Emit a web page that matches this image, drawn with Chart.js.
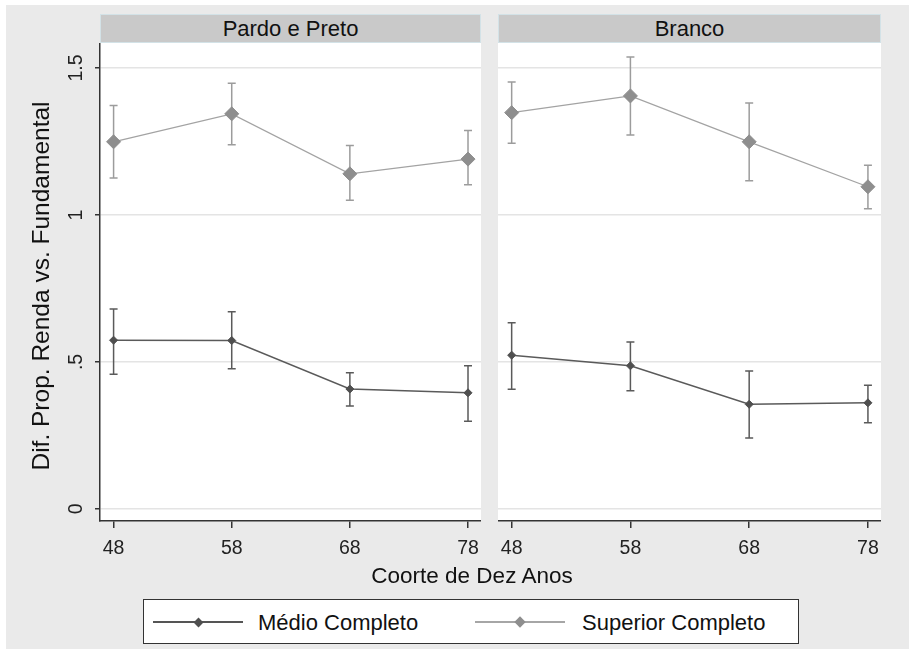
<!DOCTYPE html>
<html>
<head>
<meta charset="utf-8">
<script src="https://cdn.jsdelivr.net/npm/chart.js@4/dist/chart.umd.min.js"></script>
<style>
    body { margin: 0; background: #fff; font-family: "Liberation Sans", Arial, sans-serif; color: #111; }
    #frame { position: absolute; left: 6px; top: 5px; width: 903px; height: 644px; background: #eaeaea; }
    canvas { position: absolute; }
    .strip { position: absolute; top: 14px; height: 29px; box-sizing: border-box; background: #c9c9c9;
             border: 1px solid #d3e2e7; text-align: center; font-size: 22px; line-height: 27px; }
    .title { position: absolute; width: 420px; height: 28px; line-height: 28px; text-align: center; white-space: nowrap; }
    #legend { position: absolute; left: 143px; top: 599px; width: 656px; height: 45px; box-sizing: border-box;
              background: #fff; border: 1.5px solid #333; }
    .key-line { position: absolute; height: 1.5px; width: 90px; }
    .key-mark { position: absolute; transform: rotate(45deg); }
    .key-text { position: absolute; top: 609px; line-height: 28px; font-size: 22px; white-space: nowrap; }
</style>
</head>
<body>
<div id="frame"></div>

<div class="strip" id="strip0" style="left:100px; width:381px;"></div>
<div class="strip" id="strip1" style="left:498px; width:383px;"></div>

<canvas id="chartLeft" width="481" height="522" style="left:0; top:43px;"></canvas>
<canvas id="chartRight" width="383" height="522" style="left:498px; top:43px;"></canvas>

<div class="title" style="left:-169px; top:272px; font-size:24.5px; transform:rotate(-90deg);">Dif. Prop. Renda vs. Fundamental</div>
<div class="title" style="left:262px; top:562px; font-size:22.5px;">Coorte de Dez Anos</div>

<div id="legend"></div>
<div class="key-line" style="left:153px; top:621px; background:#555;"></div>
<div class="key-mark" style="left:194.5px; top:618.5px; width:7px; height:7px; background:#4f4f4f;"></div>
<div class="key-text" style="left:258px;">Médio Completo</div>
<div class="key-line" style="left:475px; top:621px; background:#a6a6a6;"></div>
<div class="key-mark" style="left:516px; top:618px; width:8px; height:8px; background:#8e8e8e;"></div>
<div class="key-text" style="left:582px;">Superior Completo</div>

<script>
const panels = ['Pardo e Preto', 'Branco'];
const cohorts = [48, 58, 68, 78];
const yTickValues = [0, 0.5, 1, 1.5];
const yTickLabels = ['0', '.5', '1', '1.5'];

// Pardo e Preto
const medioPardo = [0.574, 0.573, 0.408, 0.395];
const medioPardoLo = [0.458, 0.477, 0.350, 0.298];
const medioPardoHi = [0.680, 0.671, 0.463, 0.487];
const superiorPardo = [1.249, 1.344, 1.140, 1.190];
const superiorPardoLo = [1.126, 1.239, 1.050, 1.103];
const superiorPardoHi = [1.372, 1.448, 1.236, 1.287];

// Branco
const medioBranco = [0.523, 0.487, 0.356, 0.361];
const medioBrancoLo = [0.407, 0.402, 0.241, 0.293];
const medioBrancoHi = [0.633, 0.568, 0.469, 0.421];
const superiorBranco = [1.348, 1.405, 1.249, 1.096];
const superiorBrancoLo = [1.244, 1.272, 1.116, 1.021];
const superiorBrancoHi = [1.452, 1.537, 1.381, 1.169];

const FONT = '"Liberation Sans", Arial, sans-serif';

document.getElementById('strip0').innerText = panels[0];
document.getElementById('strip1').innerText = panels[1];

// white plot region, the rest stays page grey
const plotBg = {
    id: 'plotBg',
    beforeDraw(chart) {
        const a = chart.chartArea;
        chart.ctx.fillStyle = '#fff';
        chart.ctx.fillRect(a.left, a.top, a.right - a.left, a.bottom - a.top);
    }
};

// capped confidence intervals
const errorBars = {
    id: 'errorBars',
    beforeDatasetsDraw(chart) {
        const { ctx, scales: { x, y } } = chart;
        chart.data.datasets.forEach(ds => {
            ctx.save();
            ctx.strokeStyle = ds.barColor;
            ctx.lineWidth = 1.5;
            ds.lo.forEach((lo, i) => {
                const px = x.getPixelForValue(cohorts[i]);
                const top = y.getPixelForValue(ds.hi[i]);
                const bot = y.getPixelForValue(lo);
                ctx.beginPath();
                ctx.moveTo(px, top); ctx.lineTo(px, bot);
                ctx.moveTo(px - 4, top); ctx.lineTo(px + 4, top);
                ctx.moveTo(px - 4, bot); ctx.lineTo(px + 4, bot);
                ctx.stroke();
            });
            ctx.restore();
        });
    }
};

function points(vals) {
    return cohorts.map((c, i) => ({ x: c, y: vals[i] }));
}

function makeChart(id, medio, medioLo, medioHi, sup, supLo, supHi, showY) {
    return new Chart(document.getElementById(id), {
        type: 'line',
        data: {
            datasets: [
                {
                    label: 'Superior Completo',
                    data: points(sup), lo: supLo, hi: supHi, barColor: '#9c9c9c',
                    borderColor: '#a3a3a3', borderWidth: 1.3,
                    pointStyle: 'rectRot', pointRadius: 7,
                    pointBackgroundColor: '#8e8e8e', pointBorderColor: '#8e8e8e', pointBorderWidth: 1
                },
                {
                    label: 'Médio Completo',
                    data: points(medio), lo: medioLo, hi: medioHi, barColor: '#5a5a5a',
                    borderColor: '#5a5a5a', borderWidth: 1.5,
                    pointStyle: 'rectRot', pointRadius: 4,
                    pointBackgroundColor: '#4f4f4f', pointBorderColor: '#4f4f4f', pointBorderWidth: 1
                }
            ]
        },
        options: {
            responsive: false,
            animation: false,
            layout: { padding: 0, autoPadding: false },
            plugins: { legend: { display: false }, tooltip: { enabled: false } },
            scales: {
                x: {
                    type: 'linear',
                    min: 46.85,
                    max: 79.1,
                    afterBuildTicks: s => { s.ticks = cohorts.map(v => ({ value: v })); },
                    afterFit: s => { s.height = 44; s.paddingLeft = 0; s.paddingRight = 0; },
                    ticks: { color: '#222', font: { family: FONT, size: 19.5 }, padding: 9, callback: v => String(v) },
                    grid: { drawOnChartArea: false, tickLength: 7, tickColor: '#333', lineWidth: 1.5 },
                    border: { color: '#333', width: 1.5 }
                },
                y: {
                    type: 'linear',
                    min: -0.041,
                    max: 1.585,
                    afterBuildTicks: s => { s.ticks = yTickValues.map(v => ({ value: v })); },
                    afterFit: s => { s.width = showY ? 100 : 0; s.paddingTop = 0; s.paddingBottom = 0; },
                    ticks: {
                        display: showY, color: '#222', font: { family: FONT, size: 19.5 },
                        minRotation: 90, maxRotation: 90, crossAlign: 'center', padding: 5,
                        callback: (v, i) => yTickLabels[i]
                    },
                    grid: { color: '#e4e4e4', lineWidth: 1.5, drawTicks: showY, tickLength: 5, tickColor: '#333' },
                    border: { display: showY, color: '#333', width: 1.5 }
                }
            }
        },
        plugins: [plotBg, errorBars]
    });
}

makeChart('chartLeft', medioPardo, medioPardoLo, medioPardoHi, superiorPardo, superiorPardoLo, superiorPardoHi, true);
makeChart('chartRight', medioBranco, medioBrancoLo, medioBrancoHi, superiorBranco, superiorBrancoLo, superiorBrancoHi, false);
</script>
</body>
</html>
